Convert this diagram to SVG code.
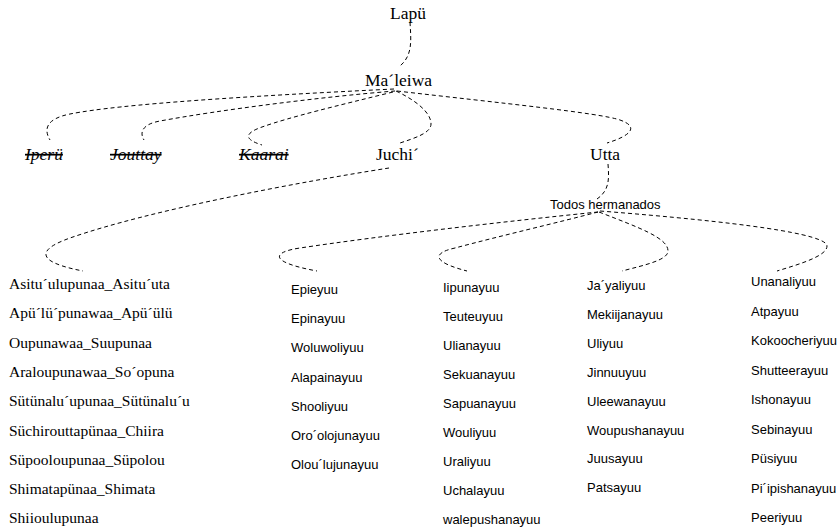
<svg xmlns="http://www.w3.org/2000/svg" width="838" height="532" viewBox="0 0 838 532">
<style>
.t{font-family:"Liberation Serif","Times New Roman",serif;font-size:17.5px;fill:#000}
.ti{font-style:italic;text-decoration:line-through}
.s{font-family:"Liberation Serif","Times New Roman",serif;font-size:15.5px;fill:#000}
.c{font-family:"Liberation Sans",Arial,sans-serif;font-size:13px;fill:#000}
.conn path{fill:none;stroke:#000;stroke-width:1;stroke-dasharray:4 3}
</style>
<rect width="838" height="532" fill="#fff"/>
<g class="conn" id="connectors">
<path d="M410 22 C411 40 413 55 400 66"/>
<path d="M394 89 C250 96 120 104 70 114 C45 119 44 130 50 140"/>
<path d="M395 91 C320 97 220 110 160 121 C143 124 139 132 144 140"/>
<path d="M393 92 C340 105 290 117 262 127 C245 133 243 139 262 145"/>
<path d="M396 91 C415 100 431 112 431 124 C431 133 415 138 400 143"/>
<path d="M397 91 C500 103 600 113 620 120 C640 127 630 136 607 143"/>
<path d="M389 168 C300 182 150 210 70 238 C36 250 36 262 83 271"/>
<path d="M608 164 C609 178 610 190 597 199"/>
<path d="M598 212 C500 222 380 236 300 248 C272 252 268 262 317 271"/>
<path d="M598 212 C560 222 500 236 455 248 C432 253 432 262 467 271"/>
<path d="M599 212 C640 228 668 238 668 251 C668 260 645 265 622 271"/>
<path d="M600 211 C740 222 827 234 827 246 C827 256 800 264 777 271"/>
</g>
<g id="lapu"><text class="t" x="390" y="19">Lapü</text></g>
<g id="maleiwa"><text class="t" x="365" y="86">Ma´leiwa</text></g>
<g id="iperu"><text class="t ti" x="25" y="160">Iperü</text></g>
<g id="jouttay"><text class="t ti" x="110" y="160">Jouttay</text></g>
<g id="kaarai"><text class="t ti" x="239" y="160">Kaarai</text></g>
<g id="juchi"><text class="t" x="376" y="160">Juchi´</text></g>
<g id="utta"><text class="t" x="590" y="160">Utta</text></g>
<g id="todos"><text class="c" x="550" y="209">Todos hermanados</text></g>
<g id="col1" class="s">
<text x="9" y="289">Asitu´ulupunaa_Asitu´uta</text>
<text x="9" y="318.3">Apü´lü´punawaa_Apü´ülü</text>
<text x="9" y="347.6">Oupunawaa_Suupunaa</text>
<text x="9" y="376.9">Araloupunawaa_So´opuna</text>
<text x="9" y="406.2">Sütünalu´upunaa_Sütünalu´u</text>
<text x="9" y="435.5">Süchirouttapünaa_Chiira</text>
<text x="9" y="464.8">Süpooloupunaa_Süpolou</text>
<text x="9" y="494.1">Shimatapünaa_Shimata</text>
<text x="9" y="523.4">Shiioulupunaa</text>
</g>
<g id="col2" class="c">
<text x="291" y="294">Epieyuu</text>
<text x="291" y="323.2">Epinayuu</text>
<text x="291" y="352.4">Woluwoliyuu</text>
<text x="291" y="381.6">Alapainayuu</text>
<text x="291" y="410.8">Shooliyuu</text>
<text x="291" y="440">Oro´olojunayuu</text>
<text x="291" y="469.2">Olou´lujunayuu</text>
</g>
<g id="col3" class="c">
<text x="443" y="291.5">Iipunayuu</text>
<text x="443" y="320.5">Teuteuyuu</text>
<text x="443" y="349.5">Ulianayuu</text>
<text x="443" y="378.5">Sekuanayuu</text>
<text x="443" y="407.5">Sapuanayuu</text>
<text x="443" y="436.5">Wouliyuu</text>
<text x="443" y="465.5">Uraliyuu</text>
<text x="443" y="494.5">Uchalayuu</text>
<text x="443" y="523.5">walepushanayuu</text>
</g>
<g id="col4" class="c">
<text x="587" y="290">Ja´yaliyuu</text>
<text x="587" y="318.9">Mekiijanayuu</text>
<text x="587" y="347.8">Uliyuu</text>
<text x="587" y="376.7">Jinnuuyuu</text>
<text x="587" y="405.6">Uleewanayuu</text>
<text x="587" y="434.5">Woupushanayuu</text>
<text x="587" y="463.4">Juusayuu</text>
<text x="587" y="492.3">Patsayuu</text>
</g>
<g id="col5" class="c">
<text x="751" y="286">Unanaliyuu</text>
<text x="751" y="315.5">Atpayuu</text>
<text x="751" y="345">Kokoocheriyuu</text>
<text x="751" y="374.5">Shutteerayuu</text>
<text x="751" y="404">Ishonayuu</text>
<text x="751" y="433.5">Sebinayuu</text>
<text x="751" y="463">Püsiyuu</text>
<text x="751" y="492.5">Pi´ipishanayuu</text>
<text x="751" y="522">Peeriyuu</text>
</g>
</svg>
